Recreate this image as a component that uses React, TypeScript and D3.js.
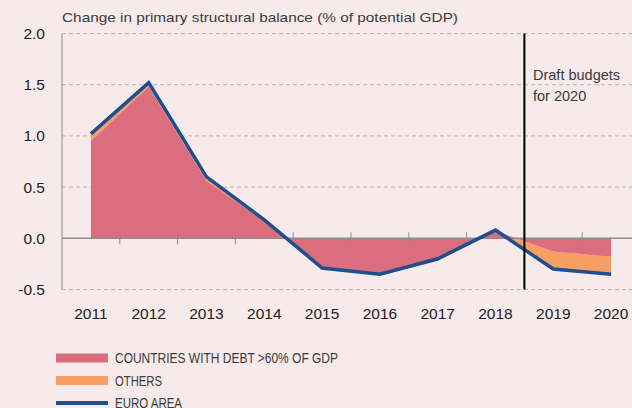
import * as d3 from 'd3'

const years = ['2011', '2012', '2013', '2014', '2015', '2016', '2017', '2018', '2019', '2020']
const debtOver60 = [0.95, 1.48, 0.56, 0.17, -0.3, -0.36, -0.22, 0.07, -0.13, -0.18]
const others = [0.07, 0.03, 0.04, 0.01, 0.01, 0.01, 0.02, 0.01, -0.17, -0.17]
const euroArea = [1.02, 1.52, 0.6, 0.18, -0.29, -0.35, -0.2, 0.08, -0.3, -0.35]
const yTicks = [2.0, 1.5, 1.0, 0.5, 0.0, -0.5]

const W = 632
const H = 408
const BG = '#f6eaeb'
const PINK = '#db6e7e'
const ORANGE = '#f8a064'
const BLUE = '#1d4e8e'
const GRID = '#b9b4b5'
const AXIS = '#8e8b8c'

export default function App() {
  const x = d3.scaleBand<string>().domain(years).range([62, 640])
  const y = d3.scaleLinear().domain([-0.5, 2.0]).range([289.5, 33.5])
  const cx = (i: number) => (x(years[i]) ?? 0) + x.bandwidth() / 2
  const idx = years.map((_, i) => i)

  const pinkArea = d3
    .area<number>()
    .x((i) => cx(i))
    .y0(() => y(0))
    .y1((i) => y(debtOver60[i]))
  const orangeArea = d3
    .area<number>()
    .x((i) => cx(i))
    .y0((i) => y(debtOver60[i]))
    .y1((i) => y(debtOver60[i] + others[i]))
  const euroLine = d3
    .line<number>()
    .x((i) => cx(i))
    .y((i) => y(euroArea[i]))

  const splitX = x('2019') ?? 0
  const legend = [
    { label: 'COUNTRIES WITH DEBT >60% OF GDP', color: PINK, h: 9, len: 223 },
    { label: 'OTHERS', color: ORANGE, h: 9, len: 47 },
    { label: 'EURO AREA', color: BLUE, h: 4, len: 67 },
  ]

  return (
    <svg
      width={W}
      height={H}
      style={{ position: 'absolute', left: 0, top: 0, display: 'block' }}
      fontFamily="'Liberation Sans', Arial, sans-serif"
    >
      <rect width={W} height={H} fill={BG} />

      <text x={62} y={22} fontSize={13.5} fill="#3d3a3b" textLength={396} lengthAdjust="spacingAndGlyphs">
        Change in primary structural balance (% of potential GDP)
      </text>

      {/* grid */}
      {yTicks
        .filter((t) => t !== 0)
        .map((t) => (
          <line
            key={t}
            x1={62}
            x2={W}
            y1={y(t)}
            y2={y(t)}
            stroke={GRID}
            strokeWidth={1}
            strokeDasharray="4 3"
          />
        ))}
      <line x1={62} x2={62} y1={y(2)} y2={y(-0.5)} stroke={AXIS} strokeWidth={1} />

      {yTicks.map((t) => (
        <text key={t} x={45} y={y(t) + 5.5} fontSize={15.5} fill="#1e1c1d" textAnchor="end">
          {t.toFixed(1)}
        </text>
      ))}

      {/* areas */}
      <path d={orangeArea(idx) ?? ''} fill={ORANGE} />
      <path d={pinkArea(idx) ?? ''} fill={PINK} />

      {/* zero line and tick marks */}
      <line x1={62} x2={W} y1={y(0)} y2={y(0)} stroke={AXIS} strokeWidth={1.5} />
      {years.slice(1).map((yr) => (
        <line
          key={yr}
          x1={x(yr) ?? 0}
          x2={x(yr) ?? 0}
          y1={y(0) - 6}
          y2={y(0) + 6}
          stroke={AXIS}
          strokeWidth={1}
        />
      ))}

      <path
        d={euroLine(idx) ?? ''}
        fill="none"
        stroke={BLUE}
        strokeWidth={3.5}
        strokeLinejoin="miter"
      />

      {/* draft budgets marker */}
      <line x1={splitX} x2={splitX} y1={y(2)} y2={y(-0.5)} stroke="#000" strokeWidth={2} />
      <text x={533} y={80} fontSize={14.5} fill="#3d3a3b">
        Draft budgets
      </text>
      <text x={533} y={101} fontSize={14.5} fill="#3d3a3b">
        for 2020
      </text>

      {years.map((yr) => (
        <text key={yr} x={(x(yr) ?? 0) + x.bandwidth() / 2} y={319} fontSize={15.5} fill="#1e1c1d" textAnchor="middle">
          {yr}
        </text>
      ))}

      {legend.map((l, i) => (
        <g key={l.label} transform={`translate(0,${358 + i * 22.5})`}>
          <rect x={56} y={-l.h / 2} width={52} height={l.h} fill={l.color} />
          <text x={115} y={5} fontSize={14} fill="#3d3a3b" textLength={l.len} lengthAdjust="spacingAndGlyphs">
            {l.label}
          </text>
        </g>
      ))}
    </svg>
  )
}
